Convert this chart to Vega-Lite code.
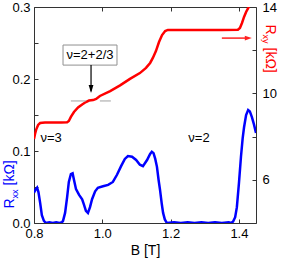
{
  "$schema": "https://vega.github.io/schema/vega-lite/v6.json",
  "width": 222,
  "height": 216,
  "autosize": "none",
  "padding": {"left": 34, "top": 7, "right": 28, "bottom": 36},
  "background": "white",
  "config": {
    "view": {"stroke": "#333333", "strokeWidth": 1},
    "axis": {
      "grid": false,
      "domain": false,
      "labelFont": "Liberation Sans",
      "titleFont": "Liberation Sans",
      "labelFontSize": 13,
      "labelColor": "#000000",
      "titleFontWeight": "normal",
      "tickColor": "#333333",
      "tickSize": -4,
      "labelFlush": false,
      "labelOverlap": false
    }
  },
  "datasets": {
    "rxx": [
      {"B":0.800,"R":0.042},{"B":0.804,"R":0.046},{"B":0.809,"R":0.049},{"B":0.813,"R":0.043},{"B":0.818,"R":0.028},{"B":0.823,"R":0.011},{"B":0.829,"R":0.003},{"B":0.835,"R":0.000},{"B":0.845,"R":0.001},{"B":0.855,"R":0.000},{"B":0.865,"R":0.001},{"B":0.875,"R":0.000},{"B":0.882,"R":0.001},{"B":0.885,"R":0.003},{"B":0.891,"R":0.014},{"B":0.897,"R":0.036},{"B":0.902,"R":0.057},{"B":0.908,"R":0.068},{"B":0.913,"R":0.069},{"B":0.917,"R":0.060},{"B":0.923,"R":0.047},{"B":0.932,"R":0.039},{"B":0.941,"R":0.033},{"B":0.946,"R":0.026},{"B":0.952,"R":0.017},{"B":0.958,"R":0.014},{"B":0.964,"R":0.022},{"B":0.970,"R":0.033},{"B":0.979,"R":0.044},{"B":0.987,"R":0.049},{"B":1.002,"R":0.051},{"B":1.017,"R":0.053},{"B":1.031,"R":0.057},{"B":1.043,"R":0.067},{"B":1.055,"R":0.079},{"B":1.066,"R":0.089},{"B":1.075,"R":0.093},{"B":1.087,"R":0.092},{"B":1.099,"R":0.0875},{"B":1.110,"R":0.081},{"B":1.119,"R":0.079},{"B":1.131,"R":0.0875},{"B":1.140,"R":0.096},{"B":1.145,"R":0.099},{"B":1.150,"R":0.097},{"B":1.155,"R":0.089},{"B":1.160,"R":0.078},{"B":1.165,"R":0.059},{"B":1.169,"R":0.046},{"B":1.174,"R":0.027},{"B":1.178,"R":0.014},{"B":1.183,"R":0.005},{"B":1.189,"R":0.000},{"B":1.21,"R":0.001},{"B":1.23,"R":0.000},{"B":1.25,"R":0.001},{"B":1.27,"R":0.000},{"B":1.29,"R":0.001},{"B":1.31,"R":0.000},{"B":1.33,"R":0.001},{"B":1.35,"R":0.000},{"B":1.37,"R":0.001},{"B":1.378,"R":0.000},{"B":1.383,"R":0.002},{"B":1.389,"R":0.008},{"B":1.394,"R":0.022},{"B":1.400,"R":0.055},{"B":1.406,"R":0.092},{"B":1.411,"R":0.118},{"B":1.415,"R":0.133},{"B":1.421,"R":0.150},{"B":1.427,"R":0.157},{"B":1.432,"R":0.155},{"B":1.438,"R":0.147},{"B":1.444,"R":0.137},{"B":1.450,"R":0.125}
    ],
    "rxy": [
      {"B":0.800,"R":7.89},{"B":0.803,"R":8.12},{"B":0.807,"R":8.35},{"B":0.812,"R":8.54},{"B":0.818,"R":8.63},{"B":0.832,"R":8.65},{"B":0.86,"R":8.65},{"B":0.88,"R":8.65},{"B":0.897,"R":8.66},{"B":0.902,"R":8.72},{"B":0.908,"R":8.91},{"B":0.917,"R":9.14},{"B":0.929,"R":9.35},{"B":0.941,"R":9.49},{"B":0.952,"R":9.60},{"B":0.961,"R":9.67},{"B":0.973,"R":9.69},{"B":0.982,"R":9.74},{"B":0.993,"R":9.88},{"B":1.023,"R":10.11},{"B":1.052,"R":10.37},{"B":1.081,"R":10.67},{"B":1.110,"R":10.94},{"B":1.128,"R":11.18},{"B":1.140,"R":11.41},{"B":1.148,"R":11.64},{"B":1.157,"R":11.96},{"B":1.166,"R":12.38},{"B":1.175,"R":12.70},{"B":1.184,"R":12.89},{"B":1.192,"R":12.94},{"B":1.25,"R":12.94},{"B":1.30,"R":12.94},{"B":1.35,"R":12.94},{"B":1.397,"R":12.95},{"B":1.403,"R":13.03},{"B":1.409,"R":13.26},{"B":1.415,"R":13.54},{"B":1.421,"R":13.77},{"B":1.427,"R":13.95},{"B":1.433,"R":14.14}
    ],
    "plateau": [{"B0":0.908,"B1":0.952,"R":9.65},{"B0":0.993,"B1":1.025,"R":9.65}],
    "box": [{"B0":0.885,"B1":1.043,"R0":12.24,"R1":11.31,"Bc":0.964,"Rc":11.78,"label":"ν=2+2/3"}],
    "arrow": [{"B":0.967,"R0":11.31,"R1":10.1,"Rh":10.2}],
    "redarrow": [{"B0":1.350,"B1":1.421,"R":12.56,"Bh":1.4275}],
    "nu": [{"B":0.850,"R":7.94,"label":"ν=3"},{"B":1.283,"R":7.94,"label":"ν=2"}]
  },
  "layer": [
    {
      "data": {"name": "rxx"},
      "layer": [
        {
          "mark": {"type": "line", "color": "#0000ff", "strokeWidth": 2.5, "clip": true},
          "encoding": {
            "x": {"field": "B", "type": "quantitative", "scale": {"domain": [0.8, 1.45], "nice": false, "zero": false},
              "axis": {"orient": "bottom", "values": [0.8, 0.9, 1.0, 1.1, 1.2, 1.3, 1.4],
                "labelExpr": "round(datum.value*10)%2==0 ? format(datum.value,'.1f') : ''",
                "labelPadding": 8, "title": "B [T]", "titleFontSize": 14, "titleX": 111, "titleY": 31,
                "titleAlign": "center", "titleBaseline": "alphabetic", "titleAngle": 0, "titleColor": "#000000"}},
            "y": {"field": "R", "type": "quantitative", "scale": {"domain": [0, 0.3], "nice": false, "zero": false},
              "axis": {"orient": "left", "values": [0, 0.05, 0.1, 0.15, 0.2, 0.25, 0.3],
                "labelExpr": "round(datum.value*100)%10==0 ? format(datum.value,'.1f') : ''",
                "labelPadding": 8, "title": "R", "titleColor": "#0000ff", "titleFontSize": 14,
                "titleAngle": 270, "titleX": -21, "titleY": 201, "titleAlign": "left", "titleBaseline": "alphabetic"}}
          }
        },
        {
          "mark": {"type": "line", "opacity": 0},
          "encoding": {
            "x": {"field": "B", "type": "quantitative", "scale": {"domain": [0.8, 1.45], "nice": false, "zero": false}},
            "y": {"field": "R", "type": "quantitative", "scale": {"domain": [0, 0.3], "nice": false, "zero": false},
              "axis": {"orient": "left", "labels": false, "ticks": false, "domain": false, "title": "xx", "titleColor": "#0000ff", "titleFontSize": 9,
                "titleAngle": 270, "titleX": -17, "titleY": 191, "titleAlign": "left", "titleBaseline": "alphabetic"}}
          }
        },
        {
          "mark": {"type": "line", "opacity": 0},
          "encoding": {
            "x": {"field": "B", "type": "quantitative", "scale": {"domain": [0.8, 1.45], "nice": false, "zero": false}},
            "y": {"field": "R", "type": "quantitative", "scale": {"domain": [0, 0.3], "nice": false, "zero": false},
              "axis": {"orient": "left", "labels": false, "ticks": false, "domain": false, "title": "[kΩ]", "titleColor": "#0000ff", "titleFontSize": 14,
                "titleAngle": 270, "titleX": -21, "titleY": 178, "titleAlign": "left", "titleBaseline": "alphabetic"}}
          }
        }
      ],
      "resolve": {"axis": {"y": "independent"}}
    },
    {
      "layer": [
        {
          "data": {"name": "rxy"},
          "mark": {"type": "line", "color": "#ff0000", "strokeWidth": 2.5, "clip": true},
          "encoding": {
            "x": {"field": "B", "type": "quantitative", "scale": {"domain": [0.8, 1.45], "nice": false, "zero": false},
              "axis": {"orient": "top", "values": [0.8, 0.9, 1.0, 1.1, 1.2, 1.3, 1.4], "labels": false, "title": null}},
            "y": {"field": "R", "type": "quantitative", "scale": {"domain": [4, 14], "nice": false, "zero": false},
              "axis": {"orient": "right", "values": [4, 6, 8, 10, 12, 14],
                "labelExpr": "(datum.value==6||datum.value==10||datum.value==14) ? datum.label : ''",
                "labelPadding": 10, "title": "R", "titleColor": "#ff0000", "titleFontSize": 14,
                "titleAngle": 90, "titleX": 9, "titleY": 17, "titleAlign": "left", "titleBaseline": "alphabetic"}}
          }
        },
        {
          "data": {"name": "rxy"},
          "mark": {"type": "line", "opacity": 0},
          "encoding": {
            "x": {"field": "B", "type": "quantitative", "scale": {"domain": [0.8, 1.45], "nice": false, "zero": false}},
            "y": {"field": "R", "type": "quantitative", "scale": {"domain": [4, 14], "nice": false, "zero": false},
              "axis": {"orient": "right", "labels": false, "ticks": false, "domain": false, "title": "xy", "titleColor": "#ff0000", "titleFontSize": 9,
                "titleAngle": 90, "titleX": 6, "titleY": 27, "titleAlign": "left", "titleBaseline": "alphabetic"}}
          }
        },
        {
          "data": {"name": "rxy"},
          "mark": {"type": "line", "opacity": 0},
          "encoding": {
            "x": {"field": "B", "type": "quantitative", "scale": {"domain": [0.8, 1.45], "nice": false, "zero": false}},
            "y": {"field": "R", "type": "quantitative", "scale": {"domain": [4, 14], "nice": false, "zero": false},
              "axis": {"orient": "right", "labels": false, "ticks": false, "domain": false, "title": "[kΩ]", "titleColor": "#ff0000", "titleFontSize": 14,
                "titleAngle": 90, "titleX": 9, "titleY": 40, "titleAlign": "left", "titleBaseline": "alphabetic"}}
          }
        },
        {
          "data": {"name": "plateau"},
          "mark": {"type": "rule", "color": "#a0a0a0", "strokeWidth": 1},
          "encoding": {
            "x": {"field": "B0", "type": "quantitative"},
            "x2": {"field": "B1"},
            "y": {"field": "R", "type": "quantitative", "axis": null}
          }
        },
        {
          "data": {"name": "box"},
          "mark": {"type": "rect", "fill": "#ffffff", "stroke": "#909090", "strokeWidth": 1},
          "encoding": {
            "x": {"field": "B0", "type": "quantitative"},
            "x2": {"field": "B1"},
            "y": {"field": "R0", "type": "quantitative", "axis": null},
            "y2": {"field": "R1"}
          }
        },
        {
          "data": {"name": "box"},
          "mark": {"type": "text", "font": "Liberation Sans", "fontSize": 13, "color": "#000000", "align": "center", "baseline": "middle"},
          "encoding": {
            "x": {"field": "Bc", "type": "quantitative"},
            "y": {"field": "Rc", "type": "quantitative", "axis": null},
            "text": {"field": "label"}
          }
        },
        {
          "data": {"name": "arrow"},
          "mark": {"type": "rule", "color": "#000000", "strokeWidth": 1.2},
          "encoding": {
            "x": {"field": "B", "type": "quantitative"},
            "y": {"field": "R0", "type": "quantitative", "axis": null},
            "y2": {"field": "R1"}
          }
        },
        {
          "data": {"name": "arrow"},
          "mark": {"type": "point", "shape": "M-0.6,-1L0.6,-1L0,1Z", "filled": true, "color": "#000000", "size": 64, "opacity": 1},
          "encoding": {
            "x": {"field": "B", "type": "quantitative"},
            "y": {"field": "Rh", "type": "quantitative", "axis": null}
          }
        },
        {
          "data": {"name": "redarrow"},
          "mark": {"type": "rule", "color": "#ff2020", "strokeWidth": 1.5},
          "encoding": {
            "x": {"field": "B0", "type": "quantitative"},
            "x2": {"field": "B1"},
            "y": {"field": "R", "type": "quantitative", "axis": null}
          }
        },
        {
          "data": {"name": "redarrow"},
          "mark": {"type": "point", "shape": "M-1,-0.7L1,0L-1,0.7Z", "filled": true, "color": "#ff2020", "size": 49, "opacity": 1},
          "encoding": {
            "x": {"field": "Bh", "type": "quantitative"},
            "y": {"field": "R", "type": "quantitative", "axis": null}
          }
        },
        {
          "data": {"name": "nu"},
          "mark": {"type": "text", "font": "Liberation Sans", "fontSize": 13, "color": "#000000", "align": "center", "baseline": "middle"},
          "encoding": {
            "x": {"field": "B", "type": "quantitative"},
            "y": {"field": "R", "type": "quantitative", "axis": null},
            "text": {"field": "label"}
          }
        }
      ],
      "resolve": {"axis": {"y": "independent"}}
    }
  ],
  "resolve": {"scale": {"y": "independent"}, "axis": {"x": "independent"}}
}
